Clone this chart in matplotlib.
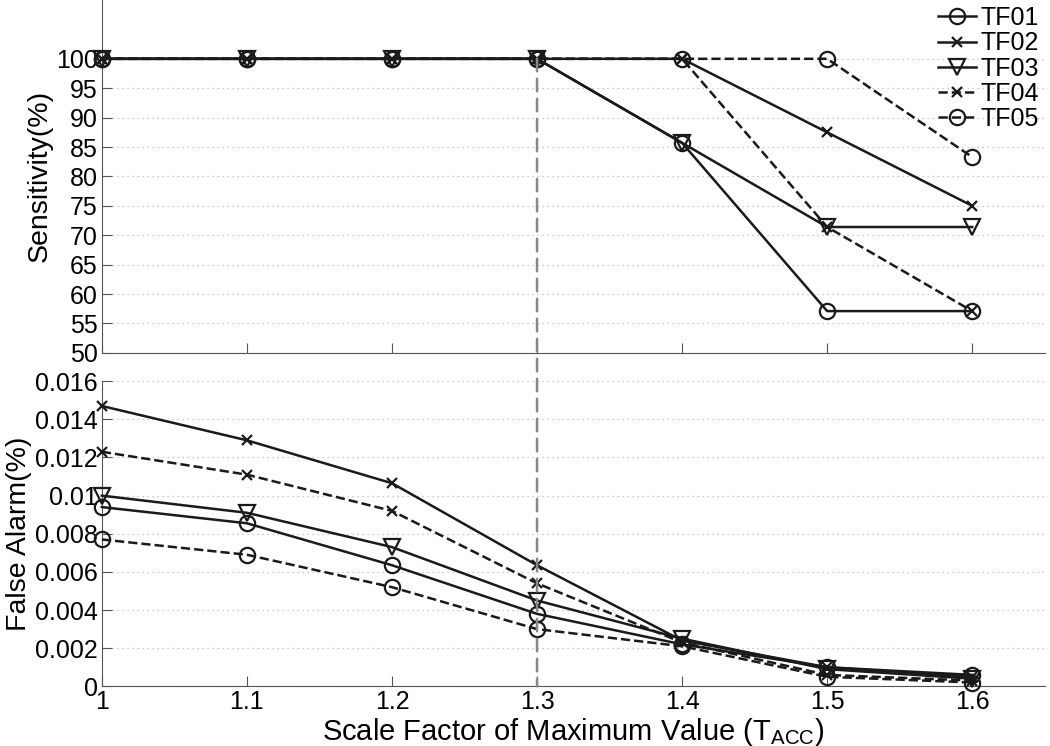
import matplotlib
matplotlib.use("Agg")
import matplotlib.pyplot as plt
from matplotlib.patches import ConnectionPatch
from matplotlib.ticker import FormatStrFormatter

plt.rcParams['font.family'] = ['Liberation Sans', 'DejaVu Sans']

scale = [1.0, 1.1, 1.2, 1.3, 1.4, 1.5, 1.6]
names = ['TF01', 'TF02', 'TF03', 'TF04', 'TF05']

sens_tf01 = [100, 100, 100, 100, 85.7, 57.1, 57.1]
sens_tf02 = [100, 100, 100, 100, 100, 87.5, 75.0]
sens_tf03 = [100, 100, 100, 100, 85.7, 71.4, 71.4]
sens_tf04 = [100, 100, 100, 100, 100, 71.4, 57.1]
sens_tf05 = [100, 100, 100, 100, 100, 100, 83.3]

fa_tf01 = [0.0094, 0.00855, 0.00635, 0.0038, 0.0022, 0.0010, 0.0006]
fa_tf02 = [0.0147, 0.0129, 0.01065, 0.00635, 0.0024, 0.0010, 0.0005]
fa_tf03 = [0.0100, 0.0091, 0.0073, 0.0045, 0.0025, 0.0009, 0.0004]
fa_tf04 = [0.0123, 0.0111, 0.0092, 0.0054, 0.0023, 0.0006, 0.0003]
fa_tf05 = [0.0077, 0.0069, 0.0052, 0.0030, 0.0021, 0.0005, 0.0002]

sens = [sens_tf01, sens_tf02, sens_tf03, sens_tf04, sens_tf05]
fa = [fa_tf01, fa_tf02, fa_tf03, fa_tf04, fa_tf05]

styles = [
    dict(ls='-', marker='o', ms=11),
    dict(ls='-', marker='x', ms=7),
    dict(ls='-', marker='v', ms=11),
    dict(ls='--', marker='x', ms=7),
    dict(ls='--', marker='o', ms=11),
]

fig = plt.figure(figsize=(10.5, 7.46), dpi=100)
ax1 = fig.add_axes([0.097, 0.527, 0.898, 0.473])
ax2 = fig.add_axes([0.097, 0.080, 0.898, 0.409])

for i in range(5):
    st = styles[i]
    ax1.plot(scale, sens[i], color='#1a1a1a', lw=1.8, ls=st['ls'],
             marker=st['marker'], ms=st['ms'], mfc='none', mew=1.6,
             clip_on=False, zorder=3, label=names[i])
    ax2.plot(scale, fa[i], color='#1a1a1a', lw=1.8, ls=st['ls'],
             marker=st['marker'], ms=st['ms'], mfc='none', mew=1.6,
             clip_on=False, zorder=3)

for ax in (ax1, ax2):
    ax.set_xlim(1.0, 1.65)
    ax.set_xticks(scale)
    ax.xaxis.set_major_formatter(FormatStrFormatter('%g'))
    ax.spines['top'].set_visible(False)
    ax.spines['right'].set_visible(False)
    ax.spines['left'].set_color('#555555')
    ax.spines['bottom'].set_color('#555555')
    ax.tick_params(direction='in', length=7, color='#555555',
                   labelsize=18, pad=3)
    ax.yaxis.grid(True, ls=(0, (1, 3)), color='#bbbbbb', lw=0.9)
    ax.set_axisbelow(True)

ax1.set_ylim(50, 110)
ax1.set_yticks(range(50, 101, 5))
ax1.tick_params(axis='x', labelbottom=False)
ax1.set_ylabel('Sensitivity(%)', fontsize=20.5, labelpad=2)

ax2.set_ylim(0, 0.016)
ax2.set_yticks([0, 0.002, 0.004, 0.006, 0.008, 0.01, 0.012, 0.014, 0.016])
ax2.yaxis.set_major_formatter(FormatStrFormatter('%g'))
ax2.set_ylabel('False Alarm(%)', fontsize=20.5, labelpad=2)
ax2.set_xlabel(r'Scale Factor of Maximum Value (T$_{\mathregular{ACC}}$)',
               fontsize=21, labelpad=1)

con = ConnectionPatch(xyA=(1.3, 100), coordsA=ax1.transData,
                      xyB=(1.3, 0), coordsB=ax2.transData,
                      color='#888888', ls=(0, (5, 3)), lw=1.8, zorder=1)
fig.add_artist(con)

ax1.legend(loc='upper right', bbox_to_anchor=(1.01, 1.025), frameon=False,
           fontsize=18, handlelength=1.5, handletextpad=0.2,
           labelspacing=0.05, borderaxespad=0.2)

fig.savefig('out.png', dpi=100)
